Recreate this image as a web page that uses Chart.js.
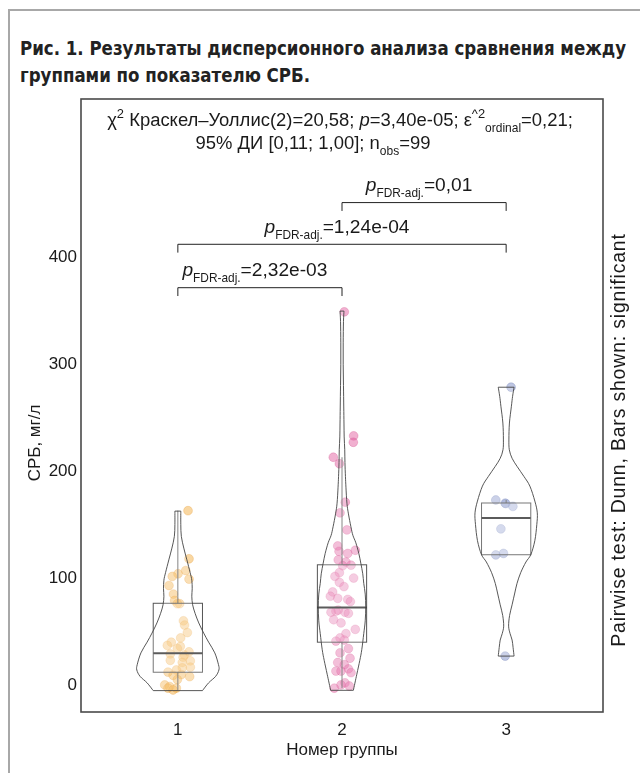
<!DOCTYPE html>
<html>
<head>
<meta charset="utf-8">
<script src="https://cdn.jsdelivr.net/npm/chart.js@4.4.1/dist/chart.umd.min.js"></script>
<style>
  html, body { margin:0; padding:0; background:#fff; }
  #wrap { position:relative; width:640px; height:773px; overflow:hidden; }
  #frame { position:absolute; left:8px; top:9px; width:700px; height:800px;
           border-left:2px solid #a8a8a8; border-top:2px solid #a8a8a8; }
  .tl { position:absolute; left:20px; white-space:nowrap; color:#222;
        font-family:"DejaVu Sans Condensed","DejaVu Sans",sans-serif; font-stretch:condensed;
        font-weight:bold; font-size:20px; line-height:24px; transform-origin:0 0; }
  #t1 { top:36px; }
  #t2 { top:63px; }
  canvas { position:absolute; left:0; top:0; }
</style>
</head>
<body>
<div id="wrap">
  <div id="frame"></div>
  <div class="tl" id="t1">Рис. 1. Результаты дисперсионного анализа сравнения между</div>
  <div class="tl" id="t2">группами по показателю СРБ.</div>
  <canvas id="c" width="640" height="773"></canvas>
</div>
<script>
// ---------------- DATA ----------------
const categories = ['1', '2', '3'];
const yTickValues = [0, 100, 200, 300, 400];

// group 1 (orange)
const g1Values = [163, 118, 107, 104, 101.5, 99, 93, 85, 79, 76, 76, 60, 56, 49, 44, 40, 37, 36, 34, 31, 29, 28, 26, 23, 22.5, 21, 16.6, 16, 14, 12, 9.7, 9, 7.8, 5, 0, -1.5, -3, -3, -4.7];
const g1Jitter = [0.062, 0.068, 0.048, 0.001, -0.034, 0.068, -0.054, -0.027, -0.020, 0.011, -0.003, 0.034, 0.041, 0.058, 0.017, -0.040, -0.064, 0.015, -0.003, 0.068, -0.046, 0.040, 0.032, -0.046, 0.076, 0.027, 0.076, 0.027, -0.009, -0.060, 0.021, -0.029, 0.072, -0.003, -0.080, -0.050, -0.060, -0.009, -0.029];
// group 2 (pink)
const g2Values = [349, 233, 227, 213, 207, 171, 161, 145, 130, 126, 125, 123, 117, 115, 112, 111.5, 105, 101.5, 100, 96, 92, 87, 83, 81, 80, 78, 70, 69, 68, 68, 67, 61, 58, 52, 48, 44, 42, 41, 34, 30, 25, 21, 19, 15, 13, 13, 11.5, 2, 0, -1, -3];
const g2Jitter = [0.014, 0.071, 0.069, -0.053, -0.016, 0.020, -0.012, 0.030, -0.026, 0.081, -0.018, 0.035, -0.023, 0.024, 0.055, 0.004, -0.016, -0.043, 0.071, -0.016, 0.012, -0.057, -0.071, -0.026, 0.035, 0.051, -0.023, -0.037, -0.067, 0.018, 0.039, -0.051, -0.006, 0.081, 0.024, -0.012, 0.014, -0.037, 0.039, -0.012, 0.049, -0.026, 0.014, 0.039, -0.037, -0.006, 0.055, 0.018, -0.006, 0.045, -0.047];
// group 3 (blue)
const g3Values = [278.5, 173, 170, 169.7, 167, 146, 123, 121.6, 27];
const g3Jitter = [0.030, -0.063, -0.006, -0.002, 0.041, -0.032, -0.016, -0.063, -0.006];

// box statistics per group
const boxLow    = [-4.7, -3, 121.6];
const boxQ1     = [11.9, 40, 121.8];
const boxMedian = [29.6, 72.4, 156.1];
const boxQ3     = [76.4, 112.4, 170.2];
const boxHigh   = [163, 213, 173];

// violin density profiles (relative density at given values)
const v1Values  = [-5.3, 2, 8, 14, 19, 30, 40, 48.5, 58, 67, 75, 83, 90, 98, 105, 117, 128, 139, 150, 162.6];
const v1Density = [0.60, 0.75, 0.92, 1.00, 0.99, 0.90, 0.75, 0.63, 0.51, 0.42, 0.36, 0.34, 0.35, 0.34, 0.30, 0.22, 0.145, 0.085, 0.072, 0.072];
const v2Values  = [-5, 10, 23, 33, 48, 60, 73, 85, 95, 104, 114, 123, 133, 140, 148, 160, 170, 185, 195, 208, 220, 232, 245, 260, 280, 300, 320, 340, 349.7];
const v2Density = [0.277, 0.361, 0.434, 0.482, 0.530, 0.566, 0.578, 0.566, 0.530, 0.506, 0.458, 0.410, 0.337, 0.265, 0.217, 0.157, 0.120, 0.096, 0.084, 0.072, 0.067, 0.053, 0.048, 0.043, 0.036, 0.029, 0.029, 0.036, 0.048];
const v3Values  = [27, 35, 42, 48, 55, 65, 75, 86, 95, 105, 115, 122, 135, 150, 161, 172, 186, 195, 204.5, 212, 220, 230, 245, 260.7, 270, 278.5];
const v3Density = [0.193, 0.169, 0.145, 0.096, 0.060, 0.084, 0.145, 0.210, 0.265, 0.354, 0.482, 0.602, 0.699, 0.747, 0.759, 0.699, 0.578, 0.434, 0.265, 0.145, 0.077, 0.067, 0.080, 0.128, 0.157, 0.193];

// pairwise comparisons
const pairFrom   = [1, 1, 2];
const pairTo     = [2, 3, 3];
const pairPValue = ['2,32e-03', '1,24e-04', '0,01'];
const pairLevel  = [371.6, 412.2, 451.2];

// ---------------- STYLE ----------------
const FONT = '"Liberation Sans", Arial, Helvetica, sans-serif';
const TEXT = '#1a1a1a';
const violinHalf = 0.25;   // x units for density 1
const boxHalf = 0.15;
const pointFill = ['rgba(243,175,70,0.5)', 'rgba(225,80,150,0.45)', 'rgba(125,142,198,0.5)'];
const pointEdge = ['rgba(228,148,40,0.35)', 'rgba(200,50,120,0.3)', 'rgba(95,112,175,0.35)'];

// fit title width
(function(){
  const t1 = document.getElementById('t1'), t2 = document.getElementById('t2');
  const w = t1.getBoundingClientRect().width;
  const s = 606 / w;
  t1.style.transform = t2.style.transform = 'scaleX(' + s + ')';
})();

function smoothThrough(ctx, pts, first) {
  if (first) ctx.moveTo(pts[0].x, pts[0].y); else ctx.lineTo(pts[0].x, pts[0].y);
  for (let i = 0; i < pts.length - 1; i++) {
    const p0 = pts[Math.max(0, i - 1)], p1 = pts[i], p2 = pts[i + 1], p3 = pts[Math.min(pts.length - 1, i + 2)];
    const c1x = p1.x + (p2.x - p0.x) / 6, c1y = p1.y + (p2.y - p0.y) / 6;
    const c2x = p2.x - (p3.x - p1.x) / 6, c2y = p2.y - (p3.y - p1.y) / 6;
    ctx.bezierCurveTo(c1x, c1y, c2x, c2y, p2.x, p2.y);
  }
}

function richWidth(ctx, segs, size) {
  let total = 0;
  segs.forEach(s => {
    ctx.font = (s.it ? 'italic ' : '') + (size * (s.s || 1)) + 'px ' + FONT;
    total += ctx.measureText(s.t).width;
  });
  return total;
}
function drawRich(ctx, segs, cx, cy, size) {
  const total = richWidth(ctx, segs, size);
  let x = cx - total / 2;
  ctx.textAlign = 'left';
  ctx.textBaseline = 'alphabetic';
  segs.forEach(s => {
    ctx.font = (s.it ? 'italic ' : '') + (size * (s.s || 1)) + 'px ' + FONT;
    ctx.fillText(s.t, x, cy + (s.dy || 0) * size);
    x += ctx.measureText(s.t).width;
  });
}

const groups = [
  { vals: v1Values, dens: v1Density },
  { vals: v2Values, dens: v2Density },
  { vals: v3Values, dens: v3Density }
];

const sub1 = [
  { t: 'χ' }, { t: '2', s: 0.7, dy: -0.42 }, { t: ' Краскел–Уоллис(2)=20,58; ' },
  { t: 'p', it: true }, { t: '=3,40e-05; ' }, { t: 'ε' }, { t: '^2', s: 0.7, dy: -0.42 },
  { t: 'ordinal', s: 0.65, dy: 0.3 }, { t: '=0,21;' }
];
const sub2 = [{ t: '95% ДИ [0,11; 1,00]; n' }, { t: 'obs', s: 0.65, dy: 0.3 }, { t: '=99' }];
const pLabel = v => [{ t: 'p', it: true }, { t: 'FDR-adj.', s: 0.62, dy: 0.32 }, { t: '=' + v }];

const violinBoxPlugin = {
  id: 'violinBox',
  afterDatasetsDraw(chart) {
    const { ctx, scales: { x, y } } = chart;
    ctx.save();
    groups.forEach((g, i) => {
      const c = i + 1;
      const right = g.vals.map((v, k) => ({ x: x.getPixelForValue(c + g.dens[k] * violinHalf), y: y.getPixelForValue(v) }));
      const left = g.vals.map((v, k) => ({ x: x.getPixelForValue(c - g.dens[k] * violinHalf), y: y.getPixelForValue(v) })).reverse();
      const bl = x.getPixelForValue(c - boxHalf), br = x.getPixelForValue(c + boxHalf), bc = x.getPixelForValue(c);
      const yq1 = y.getPixelForValue(boxQ1[i]), yq3 = y.getPixelForValue(boxQ3[i]);
      ctx.strokeStyle = '#666'; ctx.lineWidth = 1;
      ctx.beginPath();
      ctx.moveTo(bc, yq3); ctx.lineTo(bc, y.getPixelForValue(boxHigh[i]));
      ctx.moveTo(bc, yq1); ctx.lineTo(bc, y.getPixelForValue(boxLow[i]));
      ctx.stroke();
      ctx.fillStyle = 'rgba(255,255,255,0.2)';
      ctx.strokeStyle = '#555';
      ctx.fillRect(bl, yq3, br - bl, yq1 - yq3);
      ctx.strokeRect(bl, yq3, br - bl, yq1 - yq3);
      ctx.strokeStyle = '#333'; ctx.lineWidth = 2;
      ctx.beginPath();
      const ym = y.getPixelForValue(boxMedian[i]);
      ctx.moveTo(bl, ym); ctx.lineTo(br, ym); ctx.stroke();
      ctx.beginPath();
      smoothThrough(ctx, right, true);
      smoothThrough(ctx, left, false);
      ctx.closePath();
      ctx.fillStyle = 'rgba(255,255,255,0.2)';
      ctx.fill();
      ctx.strokeStyle = '#444'; ctx.lineWidth = 0.9;
      ctx.stroke();
    });
    ctx.restore();
  },
  afterDraw(chart) {
    const { ctx, chartArea: a, scales: { x, y } } = chart;
    ctx.save();
    ctx.strokeStyle = '#4a4a4a'; ctx.lineWidth = 1.6;
    ctx.strokeRect(a.left, a.top, a.right - a.left, a.bottom - a.top);
    ctx.fillStyle = TEXT;
    const subSize = 17 * 466 / richWidth(ctx, sub1, 17);
    drawRich(ctx, sub1, 340, 126, subSize);
    drawRich(ctx, sub2, 313, 149, subSize);
    const labSize = 17 * 145 / richWidth(ctx, pLabel(pairPValue[1]), 17);
    ctx.strokeStyle = '#222'; ctx.lineWidth = 1;
    pairFrom.forEach((f, k) => {
      const x1 = x.getPixelForValue(f), x2 = x.getPixelForValue(pairTo[k]);
      const yb = y.getPixelForValue(pairLevel[k]);
      const yt = y.getPixelForValue(pairLevel[k] - 7.8);
      ctx.beginPath();
      ctx.moveTo(x1, yt); ctx.lineTo(x1, yb); ctx.lineTo(x2, yb); ctx.lineTo(x2, yt);
      ctx.stroke();
      drawRich(ctx, pLabel(pairPValue[k]), (x1 + x2) / 2 - 5, yb - 11.5, labSize);
    });
    ctx.textAlign = 'center'; ctx.textBaseline = 'middle';
    ctx.font = '17px ' + FONT;
    ctx.fillText('Номер группы', (a.left + a.right) / 2, 750);
    ctx.save(); ctx.translate(35, 443); ctx.rotate(-Math.PI / 2);
    ctx.fillText('СРБ, мг/л', 0, 0); ctx.restore();
    const cap = 'Pairwise test: Dunn, Bars shown: significant';
    ctx.font = '19.5px ' + FONT;
    ctx.letterSpacing = '0.8px';
    ctx.save(); ctx.translate(620, 440); ctx.rotate(-Math.PI / 2);
    ctx.fillText(cap, 0, 0); ctx.restore();
    ctx.letterSpacing = '0px';
    ctx.restore();
  }
};

function pts(vals, jit, c) { return vals.map((v, k) => ({ x: c + jit[k], y: v })); }

new Chart(document.getElementById('c'), {
  type: 'scatter',
  data: {
    datasets: [
      { data: pts(g1Values, g1Jitter, 1), backgroundColor: pointFill[0], borderColor: pointEdge[0] },
      { data: pts(g2Values, g2Jitter, 2), backgroundColor: pointFill[1], borderColor: pointEdge[1] },
      { data: pts(g3Values, g3Jitter, 3), backgroundColor: pointFill[2], borderColor: pointEdge[2] }
    ]
  },
  options: {
    responsive: false, animation: false, devicePixelRatio: 1,
    layout: { padding: { left: 0, top: 99, right: 37, bottom: 0 } },
    elements: { point: { radius: 4.4, borderWidth: 0.8, hoverRadius: 4.4 } },
    plugins: { legend: { display: false }, tooltip: { enabled: false }, title: { display: false } },
    scales: {
      x: {
        type: 'linear', min: 0.41, max: 3.59,
        grid: { display: false, drawTicks: false }, border: { display: false },
        afterBuildTicks: s => { s.ticks = categories.map((c, i) => ({ value: i + 1 })); },
        afterFit: s => { s.height = 61; },
        ticks: { callback: v => categories[v - 1], color: TEXT, font: { size: 17, family: FONT }, padding: 8, maxRotation: 0, autoSkip: false }
      },
      y: {
        type: 'linear', min: -25.3, max: 548.1,
        grid: { display: false, drawTicks: false }, border: { display: false },
        afterBuildTicks: s => { s.ticks = yTickValues.map(v => ({ value: v })); },
        afterFit: s => { s.width = 81; },
        ticks: { color: TEXT, font: { size: 17, family: FONT }, padding: 4 }
      }
    }
  },
  plugins: [violinBoxPlugin]
});
</script>
</body>
</html>
